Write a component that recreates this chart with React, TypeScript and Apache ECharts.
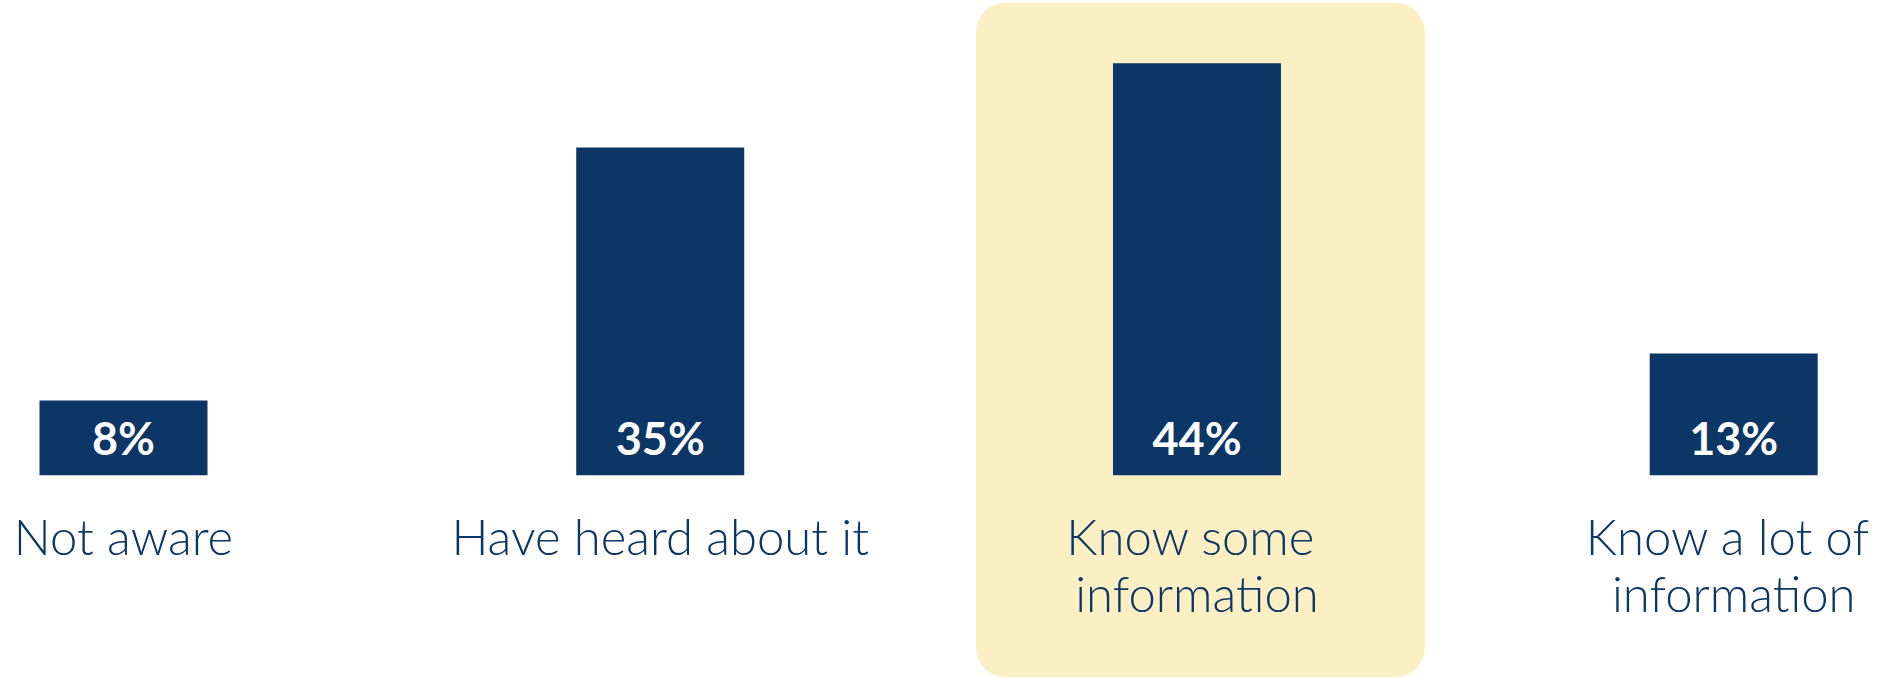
import React, { useEffect, useRef } from "react";
import * as echarts from "echarts";

const categories: string[] = [
  "Not aware",
  "Have heard about it",
  "Know some information",
  "Know a lot of information",
];
const values: number[] = [8, 35, 44, 13];
const highlightIndex = 2;

const NAVY = "#0B3665";
const HIGHLIGHT = "#FCEFC4";

export default function App() {
  const ref = useRef<HTMLDivElement>(null);

  useEffect(() => {
    if (!ref.current) return;
    const chart = echarts.init(ref.current, undefined, { renderer: "svg" });
    const option: any = {
      animation: false,
      backgroundColor: "#ffffff",
      grid: {
        left: 123.5,
        right: 151.3,
        top: 7.1,
        bottom: 202.7,
        containLabel: false,
        outerBoundsMode: "none",
      },
      xAxis: {
        type: "category",
        data: categories,
        boundaryGap: false,
        axisLine: { show: false },
        axisTick: { show: false },
        splitLine: { show: false },
        axisLabel: {
          interval: 0,
          hideOverlap: false,
          margin: 32,
          color: NAVY,
          fontFamily: "Lato",
          fontWeight: 300,
          fontSize: 49,
          lineHeight: 57,
          width: 480,
          overflow: "break",
          align: "center",
        },
      },
      yAxis: {
        type: "value",
        min: 0,
        max: 50,
        show: false,
        splitLine: { show: false },
      },
      series: [
        {
          type: "bar",
          data: values,
          barWidth: 168,
          clip: false,
          z: 2,
          itemStyle: { color: NAVY },
          label: {
            show: true,
            position: "insideBottom",
            distance: 14,
            formatter: "{c}%",
            color: "#ffffff",
            fontFamily: "Lato",
            fontWeight: "bold",
            fontSize: 45,
            lineHeight: 46,
          },
        },
      ],
    };
    chart.setOption(option);
    const cx = chart.convertToPixel({ xAxisIndex: 0 }, categories[highlightIndex]) as number;
    chart.setOption({
      graphic: [
        {
          type: "rect",
          z: 0,
          silent: true,
          shape: { x: cx - 221, y: 2.7, width: 449, height: 674.6, r: 30 },
          style: { fill: HIGHLIGHT },
        },
      ],
    });
    return () => chart.dispose();
  }, []);

  return (
    <div
      ref={ref}
      style={{ position: "fixed", left: 0, top: 0, width: 1885, height: 678 }}
    />
  );
}
